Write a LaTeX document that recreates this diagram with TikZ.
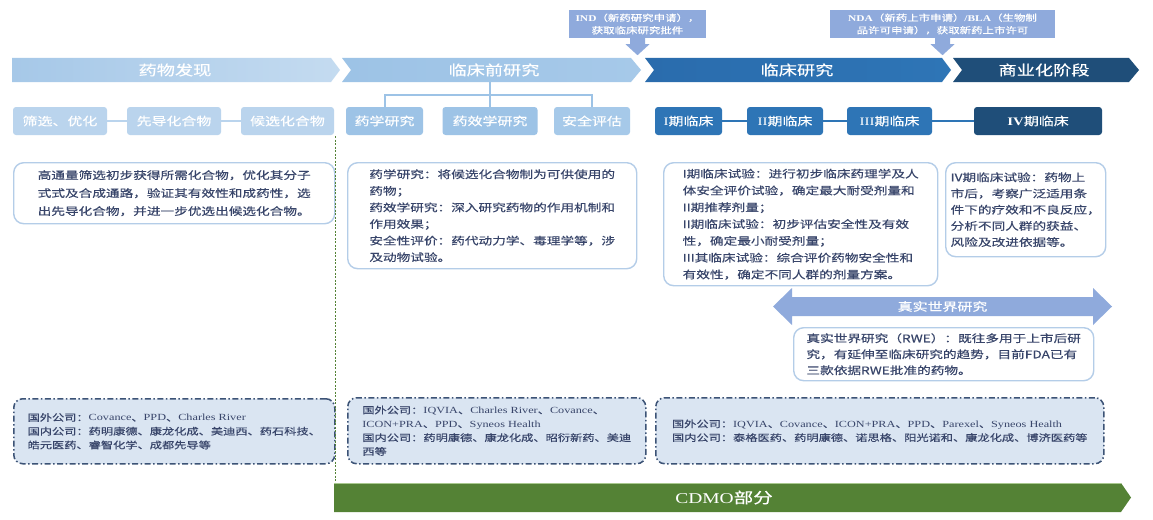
\documentclass[tikz,border=0pt]{standalone}
\usepackage{fontspec}
\newfontfamily\zh[FakeStretch=1.3,FakeBold=0.4]{Noto Sans CJK SC}
\newfontfamily\tm[FakeStretch=1.3]{Liberation Serif}
\newcommand\lat[1]{{\tm #1}}
\definecolor{chAa}{HTML}{A6C8E8}
\definecolor{chAb}{HTML}{C4DBF0}
\definecolor{sA}{HTML}{BAD4ED}
\definecolor{chB}{HTML}{9DC3E6}
\definecolor{chBb}{HTML}{A6C9E9}
\definecolor{chCa}{HTML}{2A6CAD}
\definecolor{chCb}{HTML}{2E75B6}
\definecolor{chD}{HTML}{1F4E79}
\definecolor{callc}{HTML}{8FAADC}
\definecolor{descb}{HTML}{B4CDE8}
\definecolor{txt}{HTML}{38456A}
\definecolor{compb}{HTML}{3C5376}
\definecolor{compf}{HTML}{DAE5F2}
\definecolor{grn}{HTML}{548235}
\definecolor{grnl}{HTML}{A9C98F}
\tikzset{
  chevlbl/.style={text=white, inner sep=0pt, font=\zh\fontsize{14}{14}\selectfont},
  sbox/.style={rounded corners=3pt, minimum height=28pt, inner sep=0pt, text=white,
    font=\zh\fontsize{11.5}{12}\selectfont},
  lk/.style={line width=2pt},
  callout/.style={fill=callc, text=white, align=center, inner sep=0pt,
    font=\zh\fontsize{8.8}{12.5}\selectfont},
  desc/.style={draw=descb, line width=1.4pt, rounded corners=10pt, fill=white, text=txt,
    align=left, inner sep=0pt, anchor=north west},
  comp/.style={draw=compb, fill=compf, line width=1.5pt, rounded corners=9pt,
    dash pattern=on 6pt off 2.5pt on 1.5pt off 2.5pt, text=txt, align=left,
    inner sep=0pt, anchor=north west, font=\zh\fontsize{9.4}{13.8}\selectfont},
  gdash/.style={draw=grn, line width=0.9pt, dash pattern=on 2pt off 1.5pt},
}
\begin{document}
\begin{tikzpicture}[x=1pt,y=-1pt]
\useasboundingbox (0,0) rectangle (1153,519);
\fill[white] (0,0) rectangle (1153,519);

% ---- stage chevrons
\shade[left color=chAa, right color=chAb] (12,58) -- (331,58) -- (340,70) -- (331,82) -- (12,82) -- cycle;
\node[chevlbl] (t1) at (175,70) {药物发现};
\shade[left color=chB, right color=chBb] (342,58) -- (631,58) -- (641,70) -- (631,82) -- (342,82) -- (351,70) -- cycle;
\node[chevlbl] (t2) at (494,70) {临床前研究};
\shade[left color=chCa, right color=chCb] (645,58) -- (942,58) -- (951,70) -- (942,82) -- (645,82) -- (654,70) -- cycle;
\node[chevlbl] (t3) at (797,70) {临床研究};
\fill[chD] (953,58) -- (1129,58) -- (1139,70) -- (1129,82) -- (953,82) -- (962,70) -- cycle;
\node[chevlbl] (t4) at (1044,70) {商业化阶段};

% ---- callouts
\node[callout, minimum width=137pt, minimum height=28pt] (ind) at (637.5,24)
  {\lat{\bfseries IND}（新药研究申请），\\获取临床研究批件};
\fill[callc] ([xshift=-7.5pt]ind.south) -- ++(0,6) -- ++(-4.5,0) -- ++(12,11) -- ++(12,-11) -- ++(-4.5,0) -- ++(0,-6) -- cycle;
\node[callout, minimum width=225pt, minimum height=28pt] (nda) at (942.5,24)
  {\lat{\bfseries NDA}（新药上市申请）\lat{\bfseries /BLA}（生物制\\品许可申请），获取新药上市许可};
\fill[callc] ([xshift=-7.5pt]nda.south) -- ++(0,6) -- ++(-4.5,0) -- ++(12,11) -- ++(12,-11) -- ++(-4.5,0) -- ++(0,-6) -- cycle;

% ---- sub-step boxes
\node[sbox, fill=sA, minimum width=94pt] (s1) at (60,121) {筛选、优化};
\node[sbox, fill=sA, minimum width=94pt] (s2) at (174,121) {先导化合物};
\node[sbox, fill=sA, minimum width=93pt] (s3) at (287.5,121) {候选化合物};
\draw[lk, sA] (s1.east) -- (s2.west);
\draw[lk, sA] (s2.east) -- (s3.west);

\node[sbox, fill=chB, minimum width=77pt] (p1) at (384.5,121) {药学研究};
\node[sbox, fill=chB, minimum width=95pt] (p2) at (490,121) {药效学研究};
\node[sbox, fill=chBb, minimum width=76pt] (p3) at (592,121) {安全评估};
\coordinate (c2b) at (490,82);
\draw[lk, chB] (c2b) -- (p2.north);
\draw[lk, chB] (p1.north) -- ++(0,-12) -| (p3.north);

\node[sbox, fill=chCb, minimum width=67pt] (c1) at (688.5,121) {\lat{I}期临床};
\node[sbox, fill=chCb, minimum width=76pt] (c2) at (785,121) {\lat{II}期临床};
\node[sbox, fill=chCb, minimum width=85pt] (c3) at (889.5,121) {\lat{III}期临床};
\node[sbox, fill=chD, minimum width=128pt] (c4) at (1038,121) {\lat{\bfseries IV}期临床};
\draw[lk, chCb] (c1.east) -- (c2.west);
\draw[lk, chCb] (c2.east) -- (c3.west);
\draw[lk, chCb] (c3.east) -- (c4.west);

% ---- description boxes
\node[desc, minimum width=321pt, minimum height=61pt, font=\zh\fontsize{10.5}{18}\selectfont] (d1) at (13,162)
  {高通量筛选初步获得所需化合物，优化其分子\\式式及合成通路，验证其有效性和成药性，选\\出先导化合物，并进一步优选出候选化合物。};
\node[desc, minimum width=289pt, minimum height=106pt, font=\zh\fontsize{10.5}{16.6}\selectfont] (d2) at (347,162)
  {药学研究：将候选化合物制为可供使用的\\药物；\\药效学研究：深入研究药物的作用机制和\\作用效果；\\安全性评价：药代动力学、毒理学等，涉\\及动物试验。};
\node[desc, minimum width=274pt, minimum height=123pt, font=\zh\fontsize{10.5}{16.8}\selectfont] (d3) at (663,162)
  {I期临床试验：进行初步临床药理学及人\\体安全评价试验，确定最大耐受剂量和\\II期推荐剂量；\\II期临床试验：初步评估安全性及有效\\性，确定最小耐受剂量；\\III其临床试验：综合评价药物安全性和\\有效性，确定不同人群的剂量方案。};
\node[desc, minimum width=160pt, minimum height=94pt, font=\zh\fontsize{10.5}{16.2}\selectfont] (d4) at (945,162)
  {IV期临床试验：药物上\\市后，考察广泛适用条\\件下的疗效和不良反应，\\分析不同人群的获益、\\风险及改进依据等。};

% ---- real world research
\fill[callc] (773,306.5) -- (792,288) -- (792,297) -- (1093,297) -- (1093,288) -- (1112,306.5)
  -- (1093,325) -- (1093,316) -- (792,316) -- (792,325) -- cycle;
\node[chevlbl, font=\zh\fontsize{11.5}{12}\selectfont] (rwl) at (942.5,306.5) {真实世界研究};
\node[desc, minimum width=300pt, minimum height=53pt, font=\zh\fontsize{10.5}{16}\selectfont] (rw) at (793,327)
  {真实世界研究（RWE）：既往多用于上市后研\\究，有延伸至临床研究的趋势，目前FDA已有\\三款依据RWE批准的药物。};

% ---- company boxes
\node[comp, minimum width=321pt, minimum height=65pt] (k1) at (13,398)
  {国外公司：\lat{Covance}、\lat{PPD}、\lat{Charles River}\\国内公司：药明康德、康龙化成、美迪西、药石科技、\\皓元医药、睿智化学、成都先导等};
\node[comp, minimum width=298pt, minimum height=66pt] (k2) at (347,397)
  {国外公司：\lat{IQVIA}、\lat{Charles River}、\lat{Covance}、\\\lat{ICON+PRA}、\lat{PPD}、\lat{Syneos Health}\\国内公司：药明康德、康龙化成、昭衍新药、美迪\\西等};
\node[comp, minimum width=448pt, minimum height=66pt] (k3) at (655,397)
  {国外公司：\lat{IQVIA}、\lat{Covance}、\lat{ICON+PRA}、\lat{PPD}、\lat{Parexel}、\lat{Syneos Health}\\国内公司：泰格医药、药明康德、诺思格、阳光诺和、康龙化成、博济医药等};

% ---- CDMO
\coordinate (g0) at (335,136);
\coordinate (g1) at (335,483);
\draw[gdash] (g0) -- (g1);
\fill[grn] (334,483) -- (1121,483) -- (1131,497.5) -- (1121,512) -- (334,512) -- cycle;
\draw[grnl, line width=0.8pt] (334,483.4) -- (1121,483.4);
\node[chevlbl, font=\zh\fontsize{15}{15}\selectfont] (cdmo) at (724,497.5) {\lat{CDMO}部分};
\end{tikzpicture}
\end{document}
